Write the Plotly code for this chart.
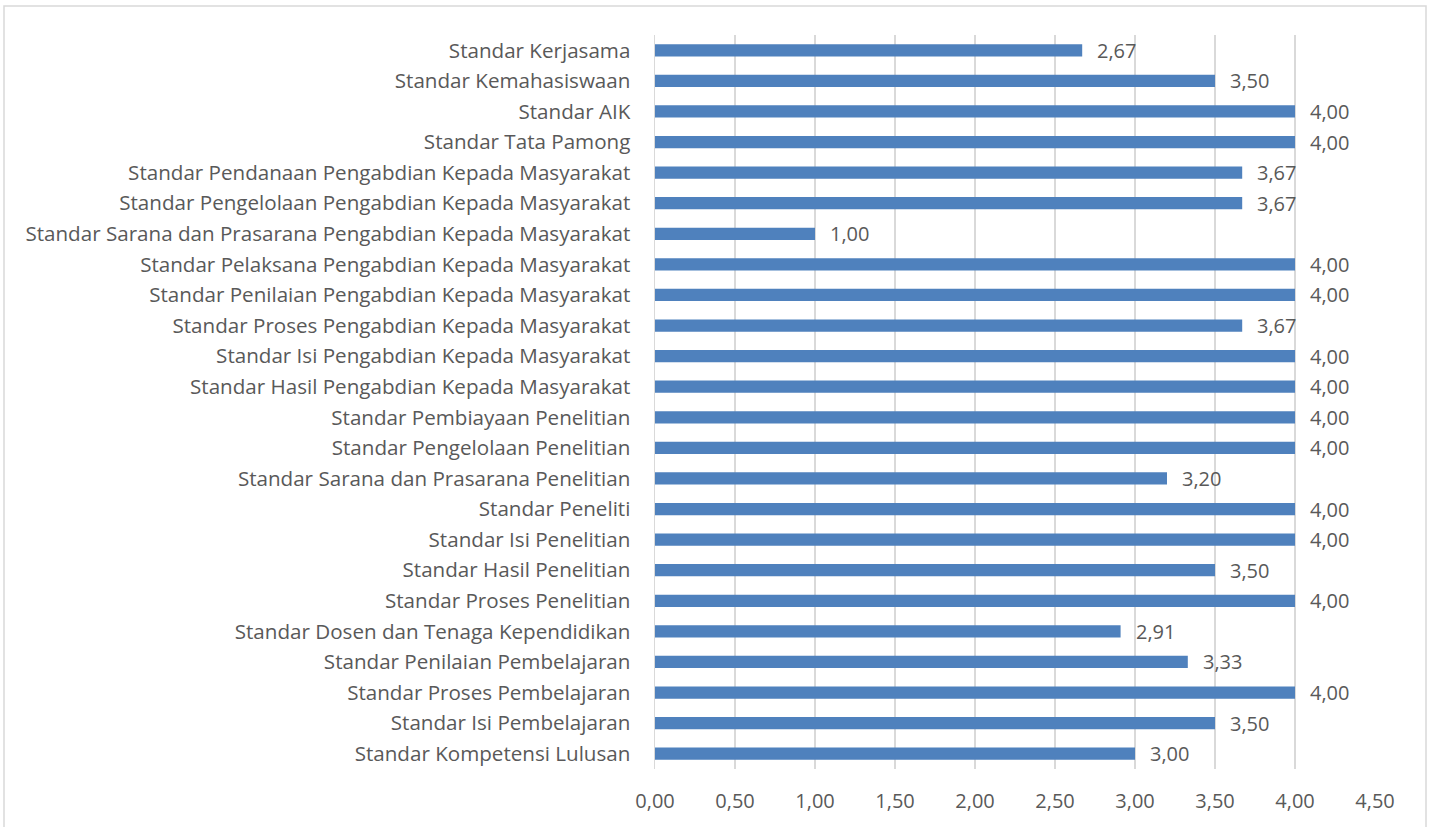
import plotly.graph_objects as go

categories = [
    "Standar Kompetensi Lulusan",
    "Standar Isi Pembelajaran",
    "Standar Proses Pembelajaran",
    "Standar Penilaian Pembelajaran",
    "Standar Dosen dan Tenaga Kependidikan",
    "Standar Proses Penelitian",
    "Standar Hasil Penelitian",
    "Standar Isi Penelitian",
    "Standar Peneliti",
    "Standar Sarana dan Prasarana Penelitian",
    "Standar Pengelolaan Penelitian",
    "Standar Pembiayaan Penelitian",
    "Standar Hasil Pengabdian Kepada Masyarakat",
    "Standar Isi Pengabdian Kepada Masyarakat",
    "Standar Proses Pengabdian Kepada Masyarakat",
    "Standar Penilaian Pengabdian Kepada Masyarakat",
    "Standar Pelaksana Pengabdian Kepada Masyarakat",
    "Standar Sarana dan Prasarana Pengabdian Kepada Masyarakat",
    "Standar Pengelolaan Pengabdian Kepada Masyarakat",
    "Standar Pendanaan Pengabdian Kepada Masyarakat",
    "Standar Tata Pamong",
    "Standar AIK",
    "Standar Kemahasiswaan",
    "Standar Kerjasama",
]
values = [3.00, 3.50, 4.00, 3.33, 2.91, 4.00, 3.50, 4.00, 4.00, 3.20, 4.00, 4.00,
          4.00, 4.00, 3.67, 4.00, 4.00, 1.00, 3.67, 3.67, 4.00, 4.00, 3.50, 2.67]
x_ticks = [0, 0.5, 1, 1.5, 2, 2.5, 3, 3.5, 4, 4.5]

FONT = "Open Sans"
FS = 20
FS_Y = 20.6
TXT = "#595959"

fig = go.Figure()
fig.add_trace(go.Bar(
    y=categories, x=values, orientation="h",
    marker=dict(color="#4F81BD", line=dict(width=0)),
    width=0.4, hoverinfo="skip",
))

annotations = []
for c, v in zip(categories, values):
    annotations.append(dict(
        x=v, y=c, xref="x", yref="y", text=f"{v:.2f}".replace(".", ","),
        showarrow=False, xanchor="left", yanchor="middle", xshift=13,
        font=dict(family=FONT, size=FS, color=TXT),
    ))

L, R, T, B = 655, 54, 35, 58
W, H = 1429, 827
pw = W - L - R
ph = H - T - B

fig.update_layout(
    width=W, height=H,
    margin=dict(l=L, r=R, t=T, b=B),
    paper_bgcolor="white", plot_bgcolor="white",
    separators=",.",
    showlegend=False,
    font=dict(family=FONT, size=FS, color=TXT),
    annotations=annotations,
    xaxis=dict(
        range=[0, 4.5], tickvals=x_ticks, tickformat=".2f",
        showgrid=True, gridcolor="#D9D9D9", gridwidth=1.5,
        zeroline=False, showline=False, ticks="",
        ticklabelstandoff=18,
        tickfont=dict(family=FONT, size=FS, color=TXT),
        fixedrange=True,
    ),
    yaxis=dict(
        categoryorder="array", categoryarray=categories,
        range=[-0.5, len(categories) - 0.5],
        showline=True, linecolor="#D9D9D9", linewidth=1.5,
        ticks="", ticklabelstandoff=19, showgrid=False,
        tickfont=dict(family=FONT, size=FS_Y, color=TXT),
        fixedrange=True,
    ),
    shapes=[dict(
        type="rect", xref="paper", yref="paper",
        x0=(4 - L) / pw, x1=(1426 - L) / pw,
        y0=(T + ph - 840) / ph, y1=(T + ph - 6) / ph,
        line=dict(color="#D9D9D9", width=1.5), fillcolor="rgba(0,0,0,0)",
        layer="below",
    )],
)

fig.write_html(
    "out.html",
    config={"displayModeBar": False, "staticPlot": True},
    post_script="document.body.style.margin='0';document.body.style.overflow='hidden';",
)
